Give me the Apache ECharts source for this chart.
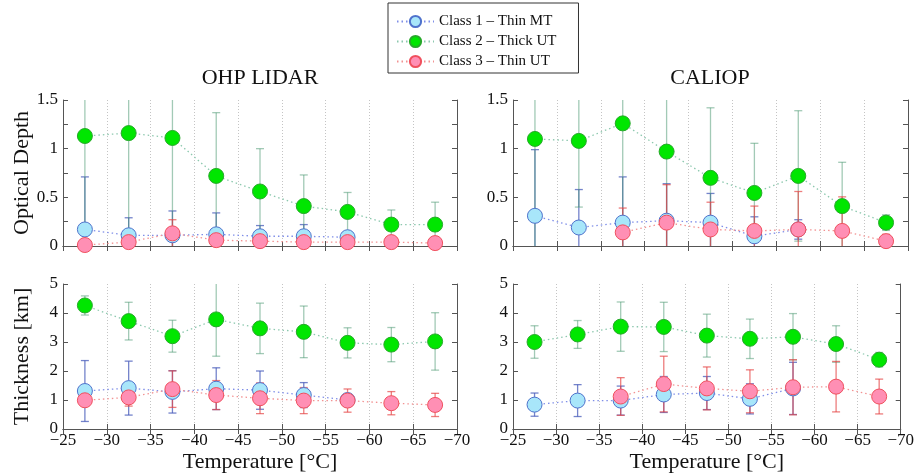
<!DOCTYPE html>
<html>
<head>
<meta charset="utf-8">
<script src="https://cdn.jsdelivr.net/npm/echarts@6/dist/echarts.min.js"></script>
<style>
  html, body { margin: 0; padding: 0; background: #fff; }
  #chart { width: 917px; height: 474px; }
</style>
</head>
<body>
<div id="chart"></div>
<script>
  // temperature bins (deg C)
  const temps = [-27.5, -32.5, -37.5, -42.5, -47.5, -52.5, -57.5, -62.5, -67.5]
  const classNames = ['Class 1 \u2013 Thin MT', 'Class 2 \u2013 Thick UT', 'Class 3 \u2013 Thin UT']

  // OHP LIDAR optical depth
  const ohpOd1 = [0.17, 0.11, 0.11, 0.12, 0.10, 0.10, 0.09, null, null]
  const ohpOd1Err = [0.54, 0.18, 0.25, 0.22, 0.11, 0.12, 0.05, null, null]
  const ohpOd2 = [1.13, 1.16, 1.11, 0.72, 0.56, 0.41, 0.35, 0.22, 0.22]
  const ohpOd2Err = [1.2, 1.2, 1.2, 0.65, 0.44, 0.32, 0.20, 0.15, 0.23]
  const ohpOd3 = [0.01, 0.04, 0.13, 0.06, 0.05, 0.04, 0.04, 0.04, 0.03]
  const ohpOd3Err = [0.01, 0.03, 0.14, 0.04, 0.03, 0.02, 0.02, 0.02, 0.02]

  // CALIOP optical depth
  const calOd1 = [0.31, 0.19, 0.24, 0.26, 0.24, 0.10, 0.17, null, null]
  const calOd1Err = [0.68, 0.39, 0.47, 0.38, 0.30, 0.20, 0.10, null, null]
  const calOd2 = [1.10, 1.08, 1.26, 0.97, 0.70, 0.545, 0.72, 0.41, 0.24]
  const calOd2Err = [1.15, 0.68, 1.3, 1.0, 0.72, 0.51, 0.67, 0.45, 0.08]
  const calOd3 = [null, null, 0.14, 0.24, 0.17, 0.155, 0.17, 0.155, 0.05]
  const calOd3Err = [null, null, 0.25, 0.39, 0.28, 0.255, 0.39, 0.35, 0.07]

  // OHP LIDAR thickness (km)
  const ohpTh1 = [1.31, 1.41, 1.28, 1.39, 1.34, 1.17, 1.00, null, null]
  const ohpTh1Err = [1.05, 0.93, 0.73, 0.72, 0.66, 0.43, 0.2, null, null]
  const ohpTh2 = [4.26, 3.72, 3.20, 3.78, 3.47, 3.35, 2.97, 2.91, 3.02]
  const ohpTh2Err = [0.33, 0.65, 0.55, 1.27, 0.87, 0.89, 0.52, 0.59, 0.99]
  const ohpTh3 = [0.99, 1.09, 1.375, 1.17, 1.06, 0.98, 0.98, 0.89, 0.83]
  const ohpTh3Err = [0.1, 0.3, 0.63, 0.5, 0.53, 0.45, 0.4, 0.4, 0.4]

  // CALIOP thickness (km)
  const calTh1 = [0.84, 0.98, 0.98, 1.19, 1.24, 1.04, 1.40, null, null]
  const calTh1Err = [0.4, 0.55, 0.5, 0.62, 0.57, 0.52, 0.9, null, null]
  const calTh2 = [3.00, 3.26, 3.53, 3.52, 3.22, 3.11, 3.18, 2.93, 2.39]
  const calTh2Err = [0.56, 0.48, 0.85, 0.85, 0.74, 0.68, 0.8, 0.63, 0.25]
  const calTh3 = [null, null, 1.12, 1.55, 1.40, 1.30, 1.44, 1.46, 1.12]
  const calTh3Err = [null, null, 0.65, 0.96, 0.74, 0.74, 0.95, 0.87, 0.6]

  const font = "'Liberation Serif', 'Times New Roman', serif"
  const fill = ['#a8e6fa', '#00e600', '#ff8fb4']
  const edge = ['#4f72cc', '#27a82a', '#f0505e']
  const lineColor = ['#7f8ee8', '#8cc8ae', '#f29292']
  const errColor = ['rgba(70,90,185,0.75)', 'rgba(70,150,110,0.5)', 'rgba(230,70,70,0.7)']

  const panels = [
    {grid: {left: 63, top: 100, width: 394, height: 146}, ymax: 1.5, step: 0.5, minor: true, xlabels: false, yname: 'Optical Depth', sets: [[ohpOd1, ohpOd1Err], [ohpOd2, ohpOd2Err], [ohpOd3, ohpOd3Err]]},
    {grid: {left: 513, top: 100, width: 395, height: 146}, ymax: 1.5, step: 0.5, minor: true, xlabels: false, yname: '', sets: [[calOd1, calOd1Err], [calOd2, calOd2Err], [calOd3, calOd3Err]]},
    {grid: {left: 63, top: 284, width: 394, height: 147}, ymax: 5, step: 1, minor: false, xlabels: true, yname: 'Thickness [km]', sets: [[ohpTh1, ohpTh1Err], [ohpTh2, ohpTh2Err], [ohpTh3, ohpTh3Err]]},
    {grid: {left: 513, top: 284, width: 395, height: 147}, ymax: 5, step: 1, minor: false, xlabels: true, yname: '', sets: [[calTh1, calTh1Err], [calTh2, calTh2Err], [calTh3, calTh3Err]]}
  ]

  function errRender (ymax, color) {
    return function (params, api) {
      const x = api.value(0)
      const v = api.value(1)
      const e = api.value(2)
      const lo = Math.max(v - e, 0)
      const hi = Math.min(v + e, ymax)
      const p1 = api.coord([x, lo])
      const p2 = api.coord([x, hi])
      const style = {stroke: color, lineWidth: 1.3}
      const kids = [{type: 'line', shape: {x1: p1[0], y1: p1[1], x2: p2[0], y2: p2[1]}, style: style}]
      if (v - e > 0) kids.push({type: 'line', shape: {x1: p1[0] - 4, y1: p1[1], x2: p1[0] + 4, y2: p1[1]}, style: style})
      if (v + e < ymax) kids.push({type: 'line', shape: {x1: p2[0] - 4, y1: p2[1], x2: p2[0] + 4, y2: p2[1]}, style: style})
      return {type: 'group', children: kids}
    }
  }

  const minus = v => (v < 0 ? '\u2212' + Math.abs(v) : String(v))
  const axisLine = {show: true, lineStyle: {color: '#555', width: 1}}

  let grid = [], xAxis = [], yAxis = [], series = []
  panels.forEach((p, g) => {
    grid.push(p.grid)
    const xBase = {
      type: 'value', gridIndex: g, min: -70, max: -25, interval: 5, inverse: true,
      axisLine: axisLine,
      axisTick: {show: true, inside: true, length: 5, lineStyle: {color: '#555'}}
    }
    xAxis.push(Object.assign({}, xBase, {
      position: 'bottom',
      axisLabel: {show: p.xlabels, formatter: minus, fontFamily: font, fontSize: 17, color: '#111', margin: 3},
      splitLine: {show: true, lineStyle: {type: [1, 2], color: '#c4c4c4'}},
      name: p.xlabels ? 'Temperature [\u00b0C]' : '', nameLocation: 'middle', nameGap: 22,
      nameTextStyle: {fontFamily: font, fontSize: 22, color: '#111'}
    }))
    xAxis.push(Object.assign({}, xBase, {position: 'top', axisLabel: {show: false}, splitLine: {show: false}}))

    const yBase = {
      type: 'value', gridIndex: g, min: 0, max: p.ymax, interval: p.step,
      axisLine: axisLine,
      axisTick: {show: true, inside: true, length: 5, lineStyle: {color: '#555'}},
      minorTick: {show: p.minor, splitNumber: 2, length: 5, lineStyle: {color: '#555'}},
      splitLine: {show: false}
    }
    yAxis.push(Object.assign({}, yBase, {
      position: 'left',
      axisLabel: {formatter: v => String(v), fontFamily: font, fontSize: 17, color: '#111', margin: 5},
      name: p.yname, nameLocation: 'middle', nameGap: 30,
      nameTextStyle: {fontFamily: font, fontSize: 22, color: '#111'}
    }))
    yAxis.push(Object.assign({}, yBase, {position: 'right', axisLabel: {show: false}}))

    // error bars first, markers on top
    p.sets.forEach(([vals, errs], c) => {
      const bars = []
      temps.forEach((t, i) => { if (vals[i] != null) bars.push([t, vals[i], errs[i]]) })
      series.push({
        type: 'custom', xAxisIndex: 2 * g, yAxisIndex: 2 * g, z: 2,
        renderItem: errRender(p.ymax, errColor[c]), data: bars, silent: true
      })
    })
    p.sets.forEach(([vals], c) => {
      const pts = []
      temps.forEach((t, i) => { if (vals[i] != null) pts.push([t, vals[i]]) })
      series.push({
        name: classNames[c], type: 'line', xAxisIndex: 2 * g, yAxisIndex: 2 * g, z: 3 + c,
        data: pts, symbol: 'circle', symbolSize: 15, showSymbol: true,
        itemStyle: {color: fill[c], borderColor: edge[c], borderWidth: 1},
        lineStyle: {type: [1.5, 3], width: 1.3, color: lineColor[c]}
      })
    })
  })

  const chart = echarts.init(document.getElementById('chart'))
  chart.setOption({
    animation: false,
    backgroundColor: '#fff',
    grid: grid,
    xAxis: xAxis,
    yAxis: yAxis,
    legend: {
      data: classNames, orient: 'vertical', left: 388, top: 3,
      padding: [11, 22, 4, 8], itemGap: 5, itemWidth: 37, itemHeight: 14,
      borderColor: '#333', borderWidth: 1, backgroundColor: '#fff',
      textStyle: {fontFamily: font, fontSize: 15, color: '#111'}
    },
    graphic: [
      {type: 'text', x: 260, y: 78, style: {text: 'OHP LIDAR', font: '22px ' + font, fill: '#111', textAlign: 'center', textVerticalAlign: 'middle'}},
      {type: 'text', x: 710, y: 78, style: {text: 'CALIOP', font: '22px ' + font, fill: '#111', textAlign: 'center', textVerticalAlign: 'middle'}}
    ],
    series: series
  })
</script>
</body>
</html>
